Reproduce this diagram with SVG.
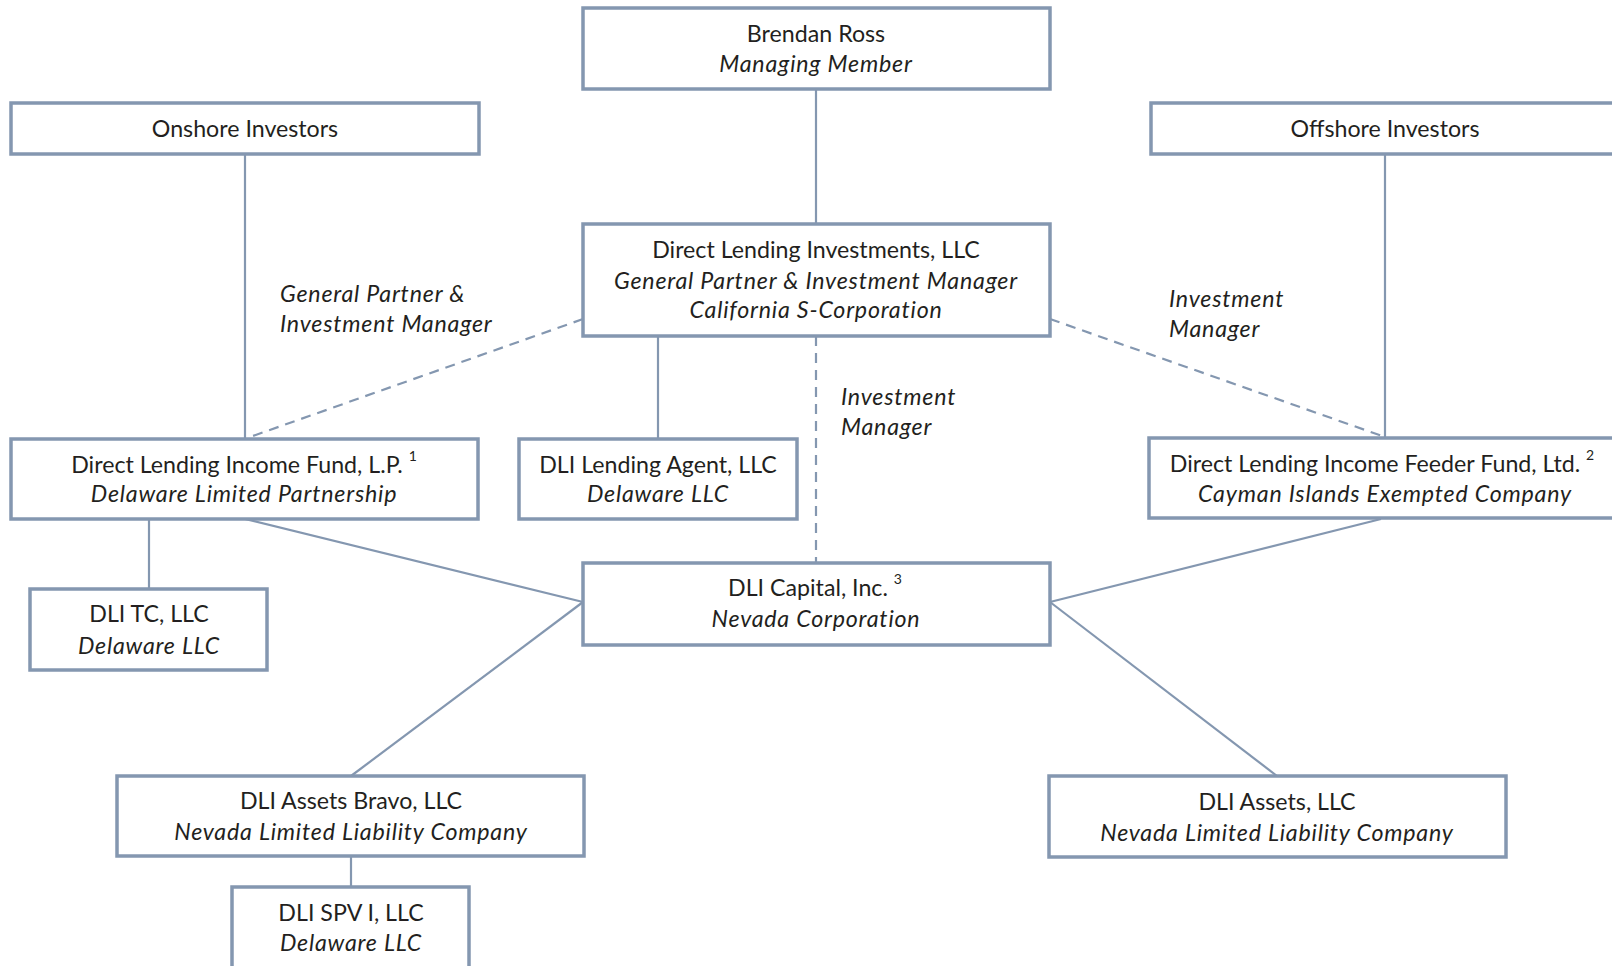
<svg xmlns="http://www.w3.org/2000/svg" width="1612" height="966" viewBox="0 0 1612 966">
<style>
.box{fill:#fff;stroke:#8497b0;stroke-width:3.5}
.ln{stroke:#8497b0;stroke-width:2.2;fill:none}
.dash{stroke:#8497b0;stroke-width:2.2;fill:none;stroke-dasharray:10 7}
text{font-family:Lato,"Open Sans",sans-serif;font-size:23.2px;fill:#231f20}
.c{text-anchor:middle}
.i{font-style:italic;letter-spacing:0.8px}
.sup{font-size:14px}
</style>
<rect width="1612" height="966" fill="#fff"/>
<g id="connectors">
<line class="ln" x1="816" y1="89" x2="816" y2="224"/>
<line class="ln" x1="245" y1="154" x2="245" y2="439"/>
<line class="ln" x1="1385" y1="154" x2="1385" y2="438"/>
<line class="dash" x1="583" y1="319" x2="250" y2="437"/>
<line class="dash" x1="1050" y1="319" x2="1385" y2="437"/>
<line class="dash" x1="816" y1="336" x2="816" y2="563"/>
<line class="ln" x1="658" y1="336" x2="658" y2="439"/>
<line class="ln" x1="149" y1="519" x2="149" y2="589"/>
<line class="ln" x1="245" y1="519" x2="583" y2="602"/>
<line class="ln" x1="1381" y1="519" x2="1050" y2="602"/>
<line class="ln" x1="583" y1="602" x2="351" y2="776"/>
<line class="ln" x1="1050" y1="602" x2="1277" y2="776"/>
<line class="ln" x1="351" y1="856" x2="351" y2="887"/>
<text class="i" x="280" y="302">General Partner &amp;</text>
<text class="i" x="280" y="332">Investment Manager</text>
<text class="i" x="1169" y="307">Investment</text>
<text class="i" x="1169" y="337">Manager</text>
<text class="i" x="841" y="405">Investment</text>
<text class="i" x="841" y="435">Manager</text>
</g>
<g id="brendan">
<rect class="box" x="583" y="8" width="467" height="81"/>
<text class="c" x="816" y="42">Brendan Ross</text>
<text class="c i" x="816" y="72">Managing Member</text>
</g>
<g id="onshore">
<rect class="box" x="11" y="103" width="468" height="51"/>
<text class="c" x="245" y="137">Onshore Investors</text>
</g>
<g id="offshore">
<rect class="box" x="1151" y="103" width="470" height="51"/>
<text class="c" x="1385" y="137">Offshore Investors</text>
</g>
<g id="dli-llc">
<rect class="box" x="583" y="224" width="467" height="112"/>
<text class="c" x="816" y="258">Direct Lending Investments, LLC</text>
<text class="c i" x="816" y="289">General Partner &amp; Investment Manager</text>
<text class="c i" x="816" y="318">California S-Corporation</text>
</g>
<g id="fund">
<rect class="box" x="11" y="439" width="467" height="80"/>
<text class="c" x="244" y="473">Direct Lending Income Fund, L.P. <tspan class="sup" dy="-12">1</tspan></text>
<text class="c i" x="244" y="502">Delaware Limited Partnership</text>
</g>
<g id="agent">
<rect class="box" x="519" y="439" width="278" height="80"/>
<text class="c" x="658" y="473">DLI Lending Agent, LLC</text>
<text class="c i" x="658" y="502">Delaware LLC</text>
</g>
<g id="feeder">
<rect class="box" x="1149" y="438" width="472" height="80"/>
<text class="c" x="1382" y="472">Direct Lending Income Feeder Fund, Ltd. <tspan class="sup" dy="-12">2</tspan></text>
<text class="c i" x="1385" y="502">Cayman Islands Exempted Company</text>
</g>
<g id="capital">
<rect class="box" x="583" y="563" width="467" height="82"/>
<text class="c" x="815" y="596">DLI Capital, Inc. <tspan class="sup" dy="-12">3</tspan></text>
<text class="c i" x="816" y="627">Nevada Corporation</text>
</g>
<g id="tc">
<rect class="box" x="30" y="589" width="237" height="81"/>
<text class="c" x="149" y="622">DLI TC, LLC</text>
<text class="c i" x="149" y="654">Delaware LLC</text>
</g>
<g id="bravo">
<rect class="box" x="117" y="776" width="467" height="80"/>
<text class="c" x="351" y="809">DLI Assets Bravo, LLC</text>
<text class="c i" x="351" y="840">Nevada Limited Liability Company</text>
</g>
<g id="assets">
<rect class="box" x="1049" y="776" width="457" height="81"/>
<text class="c" x="1277" y="810">DLI Assets, LLC</text>
<text class="c i" x="1277" y="841">Nevada Limited Liability Company</text>
</g>
<g id="spv">
<rect class="box" x="232" y="887" width="237" height="90"/>
<text class="c" x="351" y="921">DLI SPV I, LLC</text>
<text class="c i" x="351" y="951">Delaware LLC</text>
</g>
</svg>
